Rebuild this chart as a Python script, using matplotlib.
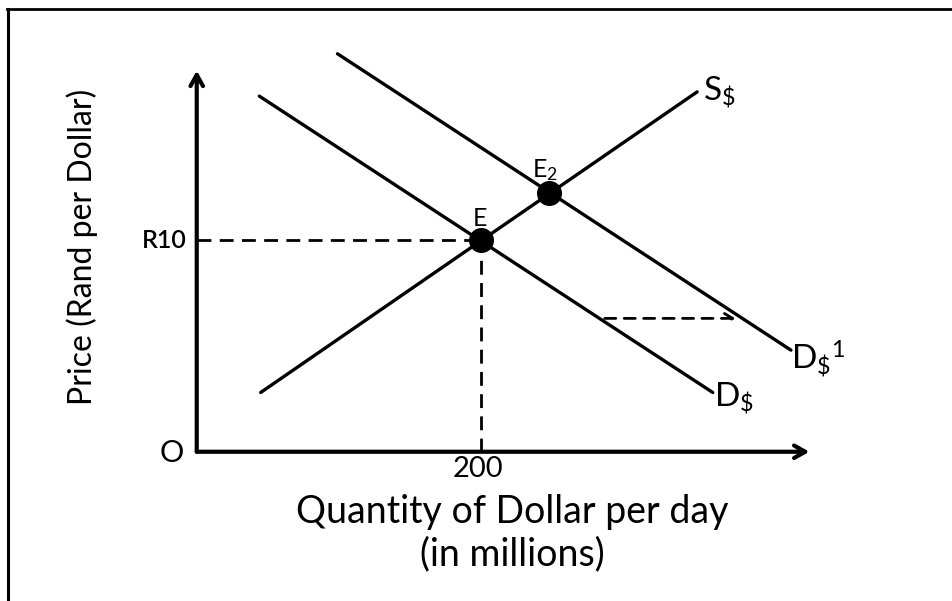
import matplotlib
matplotlib.use("Agg")
import matplotlib.pyplot as plt
from matplotlib.lines import Line2D

plt.rcParams['font.family'] = ['Lato', 'DejaVu Sans']
plt.rcParams['mathtext.fontset'] = 'custom'
plt.rcParams['mathtext.rm'] = 'Lato'
plt.rcParams['mathtext.it'] = 'Lato'

# ---- data (quantity in millions of dollars, price in Rand per dollar) ----
supply_q = [45, 352]
supply_p = [2.8, 17.0]
demand_q = [44, 363]
demand_p = [16.8, 2.8]
demand1_q = [99, 418]
demand1_p = [18.8, 4.8]
eq_q = [200, 248]
eq_p = [10, 12.2]
eq_labels = ['E', r'E$_{\mathrm{2}}$']
shift_q = [287, 379]
shift_p = [6.3, 6.3]
price_tick = 10
price_tick_label = 'R10'
qty_tick = 200
qty_tick_label = '200'
x_max = 431
y_max = 18.0

fig = plt.figure(figsize=(9.52, 6.01), dpi=100)
ax = fig.add_axes([0, 0, 1, 1])
ax.set_xlim(-138.4, 531.3)
ax.set_ylim(-7.05, 21.34)
ax.axis('off')

# frame (top and left)
fig.add_artist(Line2D([0.007, 1.0], [0.985, 0.985], transform=fig.transFigure, color='black', lw=2))
fig.add_artist(Line2D([0.008, 0.008], [0.0, 0.985], transform=fig.transFigure, color='black', lw=2.2))

# axes with arrows
ax.annotate('', xy=(0, y_max), xytext=(0, 0),
            arrowprops=dict(arrowstyle='->,head_length=0.8,head_width=0.45', lw=3, color='black',
                            shrinkA=0, shrinkB=0))
ax.annotate('', xy=(x_max, 0), xytext=(0, 0),
            arrowprops=dict(arrowstyle='->,head_length=0.8,head_width=0.45', lw=3, color='black',
                            shrinkA=0, shrinkB=0))

# curves
ax.plot(supply_q, supply_p, color='black', lw=2.4, solid_capstyle='round')
ax.plot(demand_q, demand_p, color='black', lw=2.4, solid_capstyle='round')
ax.plot(demand1_q, demand1_p, color='black', lw=2.4, solid_capstyle='round')

# guide lines
ax.plot([0, qty_tick], [price_tick, price_tick], color='black', lw=2, dashes=(5, 3))
ax.plot([qty_tick, qty_tick], [0, price_tick], color='black', lw=2, dashes=(5, 3))

# shift arrow
ax.annotate('', xy=(shift_q[1], shift_p[1]), xytext=(shift_q[0], shift_p[0]),
            arrowprops=dict(arrowstyle='->,head_length=0.6,head_width=0.35', lw=2,
                            linestyle=(0, (4, 3)), color='black', shrinkA=0, shrinkB=0))

# equilibrium points
ax.plot(eq_q, eq_p, 'o', color='black', markersize=17, zorder=5)
ax.text(eq_q[0] - 1, eq_p[0] + 1.0, eq_labels[0], fontsize=18, ha='center', va='center')
ax.text(eq_q[1] - 3, eq_p[1] + 1.1, eq_labels[1], fontsize=18, ha='center', va='center')

# curve labels
ax.text(356, 17.0, r'S$_{\mathrm{\$}}$', fontsize=24, ha='left', va='center')
ax.text(364, 2.5, r'D$_{\mathrm{\$}}$', fontsize=24, ha='left', va='center')
ax.text(418, 4.4, r'D$_{\mathrm{\$}}{}^{\mathrm{1}}$', fontsize=24, ha='left', va='center')

# tick labels
ax.text(-7, price_tick, price_tick_label, fontsize=18, ha='right', va='center', fontweight='semibold')
ax.text(qty_tick - 2, -0.8, qty_tick_label, fontsize=21, ha='center', va='center')
ax.text(-17.6, -0.06, 'O', fontsize=22, ha='center', va='center')

# axis titles
ax.text(222, -2.85, 'Quantity of Dollar per day', fontsize=27, ha='center', va='center')
ax.text(222, -4.85, '(in millions)', fontsize=27, ha='center', va='center')
ax.text(-80.7, 9.7, 'Price (Rand per Dollar)', fontsize=23, rotation=90, ha='center', va='center')

fig.savefig('out.png', dpi=100)
